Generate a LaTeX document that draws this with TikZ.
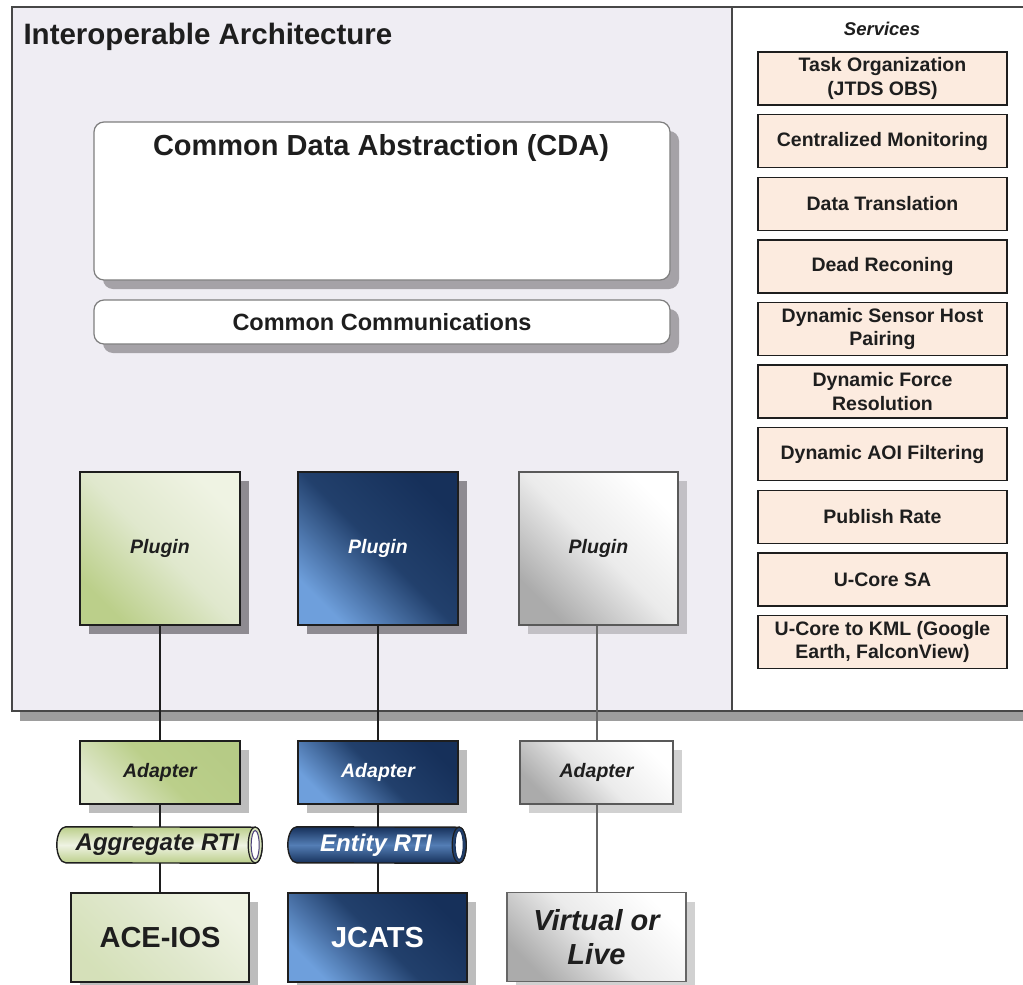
\documentclass[tikz,border=0pt]{standalone}
\usepackage{fontspec}
\setmainfont{Liberation Sans}
\usetikzlibrary{shadows}

\definecolor{panelbg}{HTML}{EFEDF3}
\definecolor{panelline}{HTML}{474747}
\definecolor{panelshade}{HTML}{9D9D9D}
\definecolor{svcfill}{HTML}{FCEBDF}
\definecolor{ink}{HTML}{1E1E1E}
\definecolor{shadowA}{HTML}{8E8B91}
\definecolor{shadowB}{HTML}{C2C0C5}
\definecolor{shadowC}{HTML}{BDBDBD}
\definecolor{grnA}{HTML}{EFF3E3}
\definecolor{grnB}{HTML}{BBCF8A}
\definecolor{grnM}{HTML}{E0E8CD}
\definecolor{grnD}{HTML}{B6CB86}
\definecolor{bluA}{HTML}{16305A}
\definecolor{bluB}{HTML}{6E9FDC}
\definecolor{bluM}{HTML}{22406C}
\definecolor{gryB}{HTML}{ABABAB}
\definecolor{gryM}{HTML}{EBEBEB}
\definecolor{capring}{HTML}{4B3F7A}

\tikzset{
  box/.style={draw=ink, line width=1.6pt, inner sep=0pt},
  shadowed/.style={drop shadow={shadow xshift=9pt, shadow yshift=-9pt, fill=#1, opacity=1}},
  greenface/.style={top color=grnA, bottom color=grnB, middle color=grnM, shading angle=-45},
  greendeep/.style={top color=grnD, bottom color=grnM, middle color=grnB, shading angle=-45},
  blueface/.style={top color=bluA, bottom color=bluB, middle color=bluM, shading angle=-45},
  greyface/.style={top color=white, bottom color=gryB, middle color=gryM, shading angle=-45},
  plugin/.style={box, minimum width=160pt, minimum height=153pt,
    font=\fontsize{19.5}{23}\selectfont\bfseries\itshape},
  adapter/.style={box, minimum width=160pt, minimum height=63pt,
    font=\fontsize{19.5}{23}\selectfont\bfseries\itshape},
  system/.style={box, line width=1.8pt, minimum width=178pt, minimum height=89pt, align=center,
    font=\fontsize{29}{34}\selectfont\bfseries},
  rtiframe/.style={inner sep=0pt, minimum width=#1, minimum height=36pt},
  rtitext/.style={inner sep=0pt, font=\fontsize{24}{28}\selectfont\bfseries\itshape},
  tube/.style={draw=ink, line width=1.4pt},
  svcbox/.style={box, line width=1.4pt, fill=svcfill, minimum width=249pt, minimum height=53pt,
    align=center, text=ink, font=\fontsize{19.5}{23.2}\selectfont\bfseries},
  layerbox/.style={draw=panelline!70, line width=1.2pt, fill=white, rounded corners=10pt,
    inner sep=0pt, minimum width=576pt, shadowed=shadowA!80},
  link/.style={draw=ink, line width=1.5pt},
  greylink/.style={draw=black!60, line width=2pt}
}

\begin{document}
\begin{tikzpicture}[x=1pt,y=-1pt]
\useasboundingbox (0,0) rectangle (1023,985);

% outer frame with its shadow, and the services column
\fill[panelshade] (20,17) rectangle (1040,721);
\draw[panelline, line width=2.6pt, fill=panelbg] (12,7) rectangle (1040,711);
\draw[panelline, line width=2pt, fill=white] (732,7) rectangle (1040,711);

\node[anchor=west, font=\fontsize{29.5}{34}\selectfont\bfseries, text=ink] (title) at (20,37)
  {Interoperable Architecture};
\node[font=\fontsize{18.5}{22}\selectfont\bfseries\itshape, text=ink] (services) at (882,29) {Services};

% service list
\foreach \i/\txt in {
  0/{Task Organization\\(JTDS OBS)},
  1/{Centralized Monitoring},
  2/{Data Translation},
  3/{Dead Reconing},
  4/{Dynamic Sensor Host\\Pairing},
  5/{Dynamic Force\\Resolution},
  6/{Dynamic AOI Filtering},
  7/{Publish Rate},
  8/{U-Core SA},
  9/{U-Core to KML (Google\\Earth, FalconView)}}
{
  \node[svcbox] (svc\i) at (882.5,{78.5+62.6*\i}) {\txt};
}

% layers
\node[layerbox, minimum height=158pt] (cda) at (382,201) {};
\node[font=\fontsize{29}{34}\selectfont\bfseries, text=ink] (cdalabel) at (381,148)
  {Common Data Abstraction (CDA)};
\node[layerbox, minimum height=44pt, font=\fontsize{23.5}{28}\selectfont\bfseries, text=ink]
  (comm) at (382,322) {Common Communications};

% plugins
\node[plugin, greenface, shadowed=shadowA, text=ink] (p1) at (160,548.5) {Plugin};
\node[plugin, blueface, shadowed=shadowA, text=white] (p2) at (378,548.5) {Plugin};
\node[plugin, greyface, shadowed=shadowB, draw=black!65, minimum width=159pt, text=ink]
  (p3) at (598.5,548.5) {Plugin};

% adapters
\node[adapter, greendeep, shadowed=shadowC, text=ink] (a1) at (160,772.5) {Adapter};
\node[adapter, blueface, shadowed=shadowC, text=white] (a2) at (378,772.5) {Adapter};
\node[adapter, greyface, shadowed=shadowC!70, draw=black!65, minimum width=153pt, text=ink]
  (a3) at (596.5,772.5) {Adapter};

% run-time infrastructures: tubes with an open end on the right
\node[rtiframe=205pt] (r1) at (159.5,845) {};
\shadedraw[tube, top color=grnB, bottom color=grnB, middle color=grnA]
  ([xshift=9pt]r1.north west) arc[start angle=90, end angle=270, x radius=9pt, y radius=18pt]
  -- ([xshift=-7pt]r1.south east) arc[start angle=-90, end angle=90, x radius=7pt, y radius=18pt]
  -- cycle;
\draw[tube, line width=1.2pt, fill=grnB!60!white] ([xshift=-7pt]r1.east) ellipse [x radius=7pt, y radius=18pt];
\draw[fill=white, draw=capring, line width=1pt] ([xshift=-7pt]r1.east) ellipse [x radius=4pt, y radius=14.5pt];
\node[rtitext, text=ink] (r1label) at ([xshift=-2pt]r1.center) {Aggregate RTI};

\node[rtiframe=178pt] (r2) at (377,845) {};
\shadedraw[tube, top color=bluA, bottom color=bluA, middle color=bluB!70!bluA]
  ([xshift=9pt]r2.north west) arc[start angle=90, end angle=270, x radius=9pt, y radius=18pt]
  -- ([xshift=-7pt]r2.south east) arc[start angle=-90, end angle=90, x radius=7pt, y radius=18pt]
  -- cycle;
\draw[tube, line width=1.2pt, fill=bluM] ([xshift=-7pt]r2.east) ellipse [x radius=7pt, y radius=18pt];
\draw[fill=white, draw=bluA, line width=1pt] ([xshift=-7pt]r2.east) ellipse [x radius=4pt, y radius=14.5pt];
\node[rtitext, text=white] (r2label) at ([xshift=-1pt]r2.center) {Entity RTI};

% simulations
\node[system, top color=grnA, bottom color=grnM!70!grnB, middle color=grnM, shading angle=-45,
  shadowed=shadowC, text=ink] (b1) at (160,937.5) {ACE-IOS};
\node[system, blueface, shadowed=shadowC, minimum width=179pt, text=white] (b2) at (377.5,937.5) {JCATS};
\node[system, greyface, shadowed=shadowC!70, draw=black!60, minimum width=179pt, text=ink,
  font=\fontsize{29}{34}\selectfont\bfseries\itshape] (b3) at (596.5,937) {Virtual or\\Live};

% connectors
\draw[link] (p1.south) -- (a1.north);
\draw[link] (a1.south) -- (a1.south |- r1.north);
\draw[link] (a1.south |- r1.south) -- (b1.north);
\draw[link] (p2.south) -- (a2.north);
\draw[link] (a2.south) -- (a2.south |- r2.north);
\draw[link] (a2.south |- r2.south) -- (a2.south |- b2.north);
\draw[greylink] (p3.south -| a3.north) -- (a3.north);
\draw[greylink] (a3.south) -- (b3.north);
\end{tikzpicture}
\end{document}
